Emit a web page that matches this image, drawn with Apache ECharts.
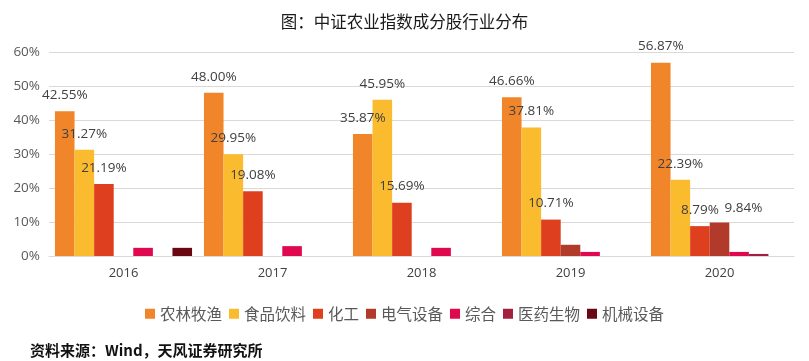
<!DOCTYPE html>
<html><head><meta charset="utf-8">
<script src="https://cdn.jsdelivr.net/npm/echarts@6/dist/echarts.min.js"></script>
<style>html,body{margin:0;padding:0;background:#fff}#c{width:809px;height:361px}</style>
</head><body><div id="c"></div>
<script>
const categories = ['2016','2017','2018','2019','2020'];
const seriesNames = ['农林牧渔','食品饮料','化工','电气设备','综合','医药生物','机械设备'];
const nonglin   = [42.55, 48.00, 35.87, 46.66, 56.87];
const shipin    = [31.27, 29.95, 45.95, 37.81, 22.39];
const huagong   = [21.19, 19.08, 15.69, 10.71, 8.79];
const dianqi    = [0, 0, 0, 3.3, 9.84];
const zonghe    = [2.4, 2.9, 2.4, 1.2, 1.2];
const yiyao     = [0, 0, 0, 0, 0.6];
const jixie     = [2.4, 0, 0, 0, 0];
const yTicks = ['0%','10%','20%','30%','40%','50%','60%'];
const colors = ['#F0852A','#FBBB2E','#DE401F','#B13A2B','#E0094F','#A2213F','#6B0712'];

const allData = [nonglin, shipin, huagong, dianqi, zonghe, yiyao, jixie];
const labeled = [true, true, true, false, false, false, false];

const labelStyle = {
  show: true, position: 'top', distance: 9,
  fontSize: 13.5, color: '#404040', fontFamily: 'Open Sans',
  formatter: p => p.value.toFixed(2) + '%'
};

const series = seriesNames.map((name, i) => ({
  name, type: 'bar',
  barGap: '0%', barCategoryGap: '8%',
  itemStyle: { color: colors[i] },
  data: allData[i].map((v, j) => {
    const d = { value: v };
    if (labeled[i]) d.label = labelStyle;
    if (i === 3 && v > 5) d.label = Object.assign({}, labelStyle, { offset: [24, 2] });
    return d;
  })
}));

const chart = echarts.init(document.getElementById('c'), null, { renderer: 'canvas' });
chart.setOption({
  animation: false,
  color: colors,
  title: [{
    text: '图：中证农业指数成分股行业分布', left: 'center', top: 8,
    textStyle: { fontSize: 16.5, fontWeight: 'normal', color: '#1a1a1a', fontFamily: 'Noto Sans CJK SC' }
  }, {
    text: '资料来源：Wind，天风证券研究所', left: 25, top: 338,
    textStyle: { fontSize: 15, fontWeight: 'bold', color: '#111', fontFamily: 'Noto Sans CJK SC' }
  }],
  legend: {
    data: seriesNames, left: 'center', top: 301,
    itemWidth: 10, itemHeight: 10, itemGap: 7, icon: 'rect',
    textStyle: { fontSize: 15.5, color: '#595959', fontFamily: 'Noto Sans CJK SC' }
  },
  grid: { left: 49, right: 15, top: 52, bottom: 105, containLabel: false },
  xAxis: {
    type: 'category', data: categories,
    axisLine: { lineStyle: { color: '#d9d9d9' } },
    axisTick: { show: false },
    axisLabel: { fontSize: 13, color: '#404040', fontFamily: 'Open Sans', margin: 11 }
  },
  yAxis: {
    type: 'value', min: 0, max: 60, interval: 10,
    axisLine: { show: false }, axisTick: { show: false },
    splitLine: { lineStyle: { color: '#d9d9d9' } },
    axisLabel: { fontSize: 13.5, color: '#595959', fontFamily: 'Open Sans', margin: 9,
      formatter: v => yTicks[Math.round(v / 10)] }
  },
  series
});
</script></body></html>
